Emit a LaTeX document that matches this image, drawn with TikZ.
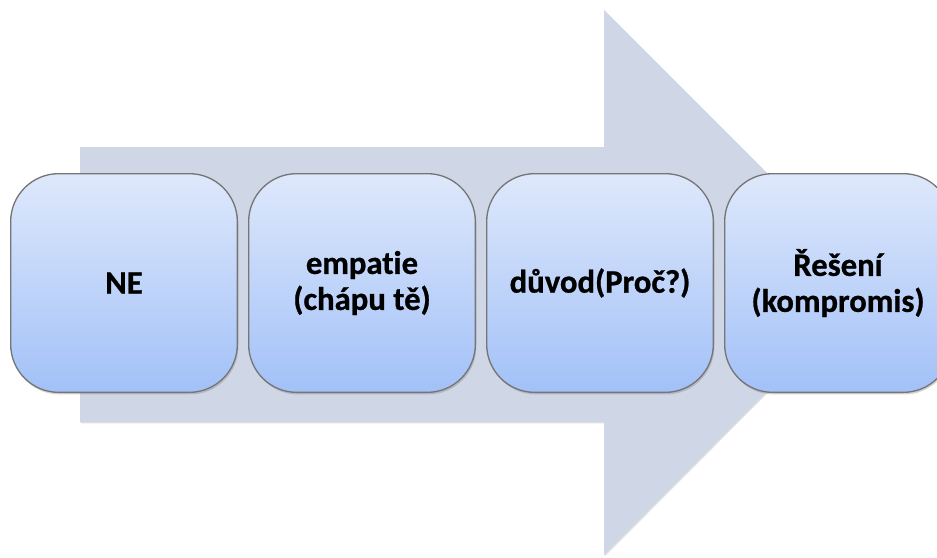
\documentclass[tikz,border=0pt]{standalone}
\usepackage{fontspec}
\setmainfont{Carlito}[Ligatures=CommonOff, BoldFeatures={FakeBold=0.8}]
\usetikzlibrary{shadows}
\definecolor{arrowfill}{HTML}{CFD6E6}
\definecolor{boxtop}{HTML}{DEE8FB}
\definecolor{boxbottom}{HTML}{A2C1F8}
\definecolor{boxline}{HTML}{767676}
\tikzset{
  stepbox/.style={
    draw=boxline, line width=1pt,
    rounded corners=36pt,
    top color=boxtop, bottom color=boxbottom,
    minimum width=170pt, minimum height=164pt,
    inner sep=0pt, align=center,
    font=\bfseries\fontsize{24.5}{27}\selectfont, text=black,
    drop shadow={shadow xshift=0.8pt, shadow yshift=-1.6pt, opacity=0.35}
  },
  bigarrow/.style={
    fill=arrowfill,
    drop shadow={shadow xshift=0.6pt, shadow yshift=-1pt, opacity=0.25}
  }
}
\begin{document}
\begin{tikzpicture}[x=0.75pt, y=-0.75pt]
  \useasboundingbox (0,0) rectangle (937,557);
  \clip (0,0) rectangle (937,557);
  % background arrow
  \path[bigarrow] (80,147) -- (604,147) -- (604,10) -- (876,282)
    -- (604,555) -- (604,422) -- (80,422) -- cycle;
  % process steps
  \node[stepbox] (ne)      at (124,283) {NE};
  \node[stepbox] (empatie) at (362,283) {empatie\\(chápu tě)};
  \node[stepbox] (duvod)   at (600,283) {důvod(Proč?)};
  \node[stepbox] (reseni)  at (838,283) {Řešení\\(kompromis)};
\end{tikzpicture}
\end{document}
